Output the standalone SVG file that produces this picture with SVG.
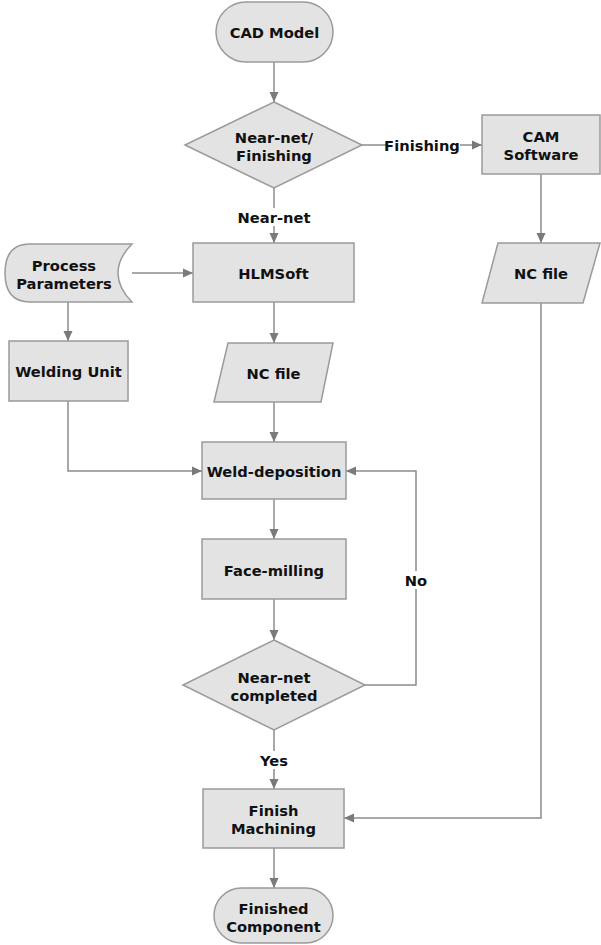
<svg xmlns="http://www.w3.org/2000/svg" width="601" height="945" viewBox="0 0 601 945">
  <style>
    .shape { fill: #e3e3e3; stroke: #9a9a9a; stroke-width: 1.5; }
    .wire { fill: none; stroke: #8c8c8c; stroke-width: 1.5; }
    .lbl { font-family: "DejaVu Sans", Verdana, sans-serif; font-weight: bold; font-size: 14.7px; fill: #111; text-anchor: middle; dominant-baseline: central; }
    .tag { font-family: "DejaVu Sans", Verdana, sans-serif; font-weight: bold; font-size: 14.7px; fill: #111; text-anchor: middle; dominant-baseline: central; }
  </style>
  <defs>
    <marker id="arrow" viewBox="0 0 10 10" refX="10" refY="5" markerWidth="10" markerHeight="10" markerUnits="userSpaceOnUse" orient="auto">
      <path d="M0,0.5 L10,5 L0,9.5 z" fill="#7a7a7a"/>
    </marker>
  </defs>
  <rect width="601" height="945" fill="#ffffff"/>

  <!-- connectors -->
  <g id="connectors">
    <path class="wire" d="M274,62 V102" marker-end="url(#arrow)"/>
    <path class="wire" d="M362,145 H482" marker-end="url(#arrow)"/>
    <path class="wire" d="M274,188 V243" marker-end="url(#arrow)"/>
    <path class="wire" d="M541,174 V243" marker-end="url(#arrow)"/>
    <path class="wire" d="M132,273 H193" marker-end="url(#arrow)"/>
    <path class="wire" d="M68,302 V341" marker-end="url(#arrow)"/>
    <path class="wire" d="M274,302 V343" marker-end="url(#arrow)"/>
    <path class="wire" d="M274,402 V442" marker-end="url(#arrow)"/>
    <path class="wire" d="M68,401 V471 H202" marker-end="url(#arrow)"/>
    <path class="wire" d="M274,499 V539" marker-end="url(#arrow)"/>
    <path class="wire" d="M274,599 V640" marker-end="url(#arrow)"/>
    <path class="wire" d="M365,685 H416 V471 H346" marker-end="url(#arrow)"/>
    <path class="wire" d="M274,730 V789" marker-end="url(#arrow)"/>
    <path class="wire" d="M541,303 V818 H344" marker-end="url(#arrow)"/>
    <path class="wire" d="M274,848 V888" marker-end="url(#arrow)"/>
    <!-- connector labels -->
    <rect x="386" y="136" width="74" height="18" fill="#ffffff"/>
    <text class="tag" x="422" y="145">Finishing</text>
    <rect x="236" y="208" width="76" height="18" fill="#ffffff"/>
    <text class="tag" x="274" y="217">Near-net</text>
    <rect x="401" y="571" width="30" height="18" fill="#ffffff"/>
    <text class="tag" x="416" y="580">No</text>
    <rect x="254" y="751" width="40" height="18" fill="#ffffff"/>
    <text class="tag" x="274" y="760">Yes</text>
  </g>

  <g id="cad-model">
    <rect class="shape" x="216" y="2" width="117" height="60" rx="30" ry="30"/>
    <text class="lbl" x="274.5" y="32">CAD Model</text>
  </g>

  <g id="near-net-finishing">
    <polygon class="shape" points="274,102 362,145 274,188 185,145"/>
    <text class="lbl" x="274" y="137">Near-net/</text>
    <text class="lbl" x="274" y="155">Finishing</text>
  </g>

  <g id="cam-software">
    <rect class="shape" x="482" y="115" width="118" height="59"/>
    <text class="lbl" x="541" y="136">CAM</text>
    <text class="lbl" x="541" y="154">Software</text>
  </g>

  <g id="nc-file-cam">
    <polygon class="shape" points="498,243 600,243 583,303 482,303"/>
    <text class="lbl" x="541" y="273">NC file</text>
  </g>

  <g id="process-parameters">
    <path class="shape" d="M30,244 H132 Q118,258 118,273 Q118,288 132,302 H30 Q5,302 5,273 Q5,244 30,244 z"/>
    <text class="lbl" x="64" y="265">Process</text>
    <text class="lbl" x="64" y="283">Parameters</text>
  </g>

  <g id="hlmsoft">
    <rect class="shape" x="193" y="243" width="161" height="59"/>
    <text class="lbl" x="273.5" y="273">HLMSoft</text>
  </g>

  <g id="welding-unit">
    <rect class="shape" x="9" y="341" width="119" height="60"/>
    <text class="lbl" x="68.5" y="371">Welding Unit</text>
  </g>

  <g id="nc-file-hlm">
    <polygon class="shape" points="228,343 333,343 321,402 214,402"/>
    <text class="lbl" x="273.5" y="373">NC file</text>
  </g>

  <g id="weld-deposition">
    <rect class="shape" x="202" y="442" width="144" height="57"/>
    <text class="lbl" x="274" y="471">Weld-deposition</text>
  </g>

  <g id="face-milling">
    <rect class="shape" x="202" y="539" width="144" height="60"/>
    <text class="lbl" x="274" y="570">Face-milling</text>
  </g>

  <g id="near-net-completed">
    <polygon class="shape" points="274,640 365,685 274,730 183,685"/>
    <text class="lbl" x="274" y="677">Near-net</text>
    <text class="lbl" x="274" y="695">completed</text>
  </g>

  <g id="finish-machining">
    <rect class="shape" x="203" y="789" width="141" height="59"/>
    <text class="lbl" x="273.5" y="810">Finish</text>
    <text class="lbl" x="273.5" y="828">Machining</text>
  </g>

  <g id="finished-component">
    <rect class="shape" x="214" y="888" width="119" height="55" rx="27.5" ry="27.5"/>
    <text class="lbl" x="273.5" y="908">Finished</text>
    <text class="lbl" x="273.5" y="926">Component</text>
  </g>
</svg>
